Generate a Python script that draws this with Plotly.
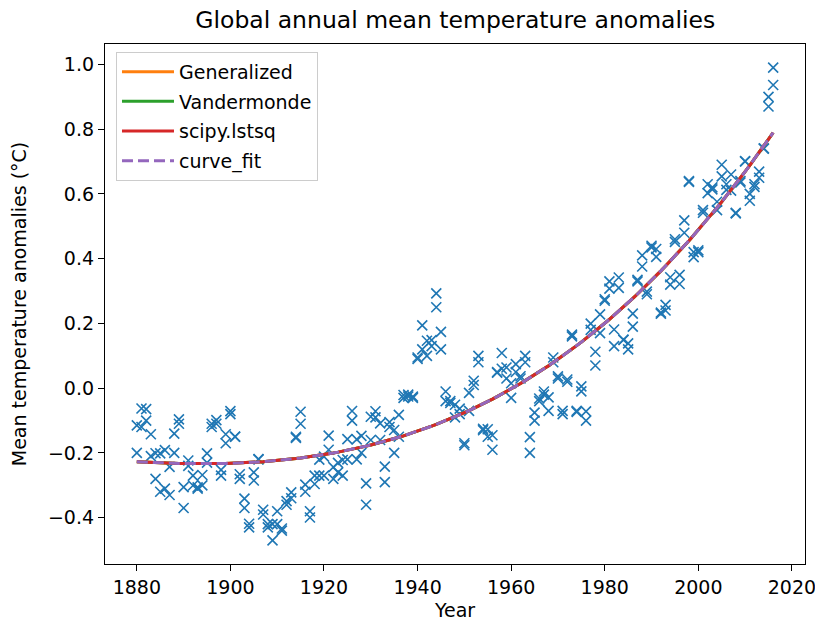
import numpy as np
import plotly.graph_objects as go

years = list(range(1880, 2017))

gcag = [
    -0.1148, -0.0628, -0.0648, -0.1424, -0.2009, -0.2013, -0.1914, -0.2430, -0.1402, -0.0962,
    -0.3057, -0.2233, -0.3006, -0.3064, -0.2682, -0.2015, -0.1200, -0.0985, -0.2521, -0.1422,
    -0.0710, -0.1497, -0.2659, -0.3413, -0.4187, -0.2852, -0.2190, -0.3755, -0.4198, -0.4200,
    -0.3800, -0.4335, -0.3489, -0.3217, -0.1533, -0.0729, -0.2978, -0.3995, -0.2958, -0.2207,
    -0.2114, -0.1467, -0.2437, -0.2306, -0.2217, -0.1573, -0.0704, -0.1581, -0.1473, -0.2938,
    -0.0881, -0.0712, -0.1086, -0.2422, -0.1048, -0.1293, -0.0824, -0.0211, -0.0256, -0.0261,
    0.0947, 0.1940, 0.1466, 0.1483, 0.2928, 0.1740, -0.0103, -0.0459, -0.0513, -0.0631,
    -0.1761, -0.0146, 0.0228, 0.0998, -0.1253, -0.1268, -0.1455, 0.0476, 0.1085, 0.0640,
    0.0151, 0.0745, 0.0367, 0.1000, -0.1513, -0.0756, -0.0317, -0.0104, -0.0283, 0.0947,
    0.0364, -0.0700, 0.0267, 0.1655, -0.0730, 0.0057, -0.0716, 0.1996, 0.1126, 0.2280,
    0.2747, 0.3074, 0.1813, 0.3420, 0.1487, 0.1385, 0.2303, 0.3343, 0.3757, 0.2982,
    0.4350, 0.4055, 0.2335, 0.2572, 0.3426, 0.4518, 0.3216, 0.5181, 0.6370, 0.4048,
    0.4255, 0.5419, 0.6023, 0.6139, 0.5759, 0.6543, 0.6125, 0.6100, 0.5415, 0.6354,
    0.7014, 0.5788, 0.6219, 0.6687, 0.7408, 0.8998, 0.9363,
]

gistemp = [
    -0.20, -0.12, -0.10, -0.21, -0.28, -0.32, -0.31, -0.33, -0.20, -0.11,
    -0.37, -0.24, -0.27, -0.31, -0.30, -0.23, -0.11, -0.11, -0.27, -0.17,
    -0.08, -0.15, -0.28, -0.37, -0.43, -0.26, -0.22, -0.39, -0.43, -0.47,
    -0.42, -0.44, -0.36, -0.34, -0.15, -0.11, -0.32, -0.38, -0.27, -0.27,
    -0.27, -0.19, -0.28, -0.26, -0.27, -0.22, -0.10, -0.22, -0.20, -0.36,
    -0.16, -0.09, -0.16, -0.29, -0.12, -0.20, -0.15, -0.03, -0.02, -0.03,
    0.09, 0.12, 0.10, 0.13, 0.25, 0.12, -0.04, -0.04, -0.09, -0.08,
    -0.17, -0.07, 0.01, 0.08, -0.13, -0.15, -0.19, 0.05, 0.06, 0.03,
    -0.03, 0.05, 0.03, 0.08, -0.20, -0.10, -0.04, -0.02, -0.07, 0.08,
    0.03, -0.08, 0.02, 0.16, -0.07, -0.01, -0.10, 0.18, 0.07, 0.17,
    0.27, 0.33, 0.13, 0.31, 0.15, 0.12, 0.19, 0.33, 0.41, 0.29,
    0.44, 0.43, 0.23, 0.24, 0.32, 0.46, 0.35, 0.48, 0.64, 0.42,
    0.42, 0.55, 0.63, 0.62, 0.55, 0.69, 0.63, 0.66, 0.54, 0.64,
    0.70, 0.60, 0.63, 0.65, 0.74, 0.87, 0.99,
]

fit_names = ["Generalized", "Vandermonde", "scipy.lstsq", "curve_fit"]
fit_colors = ["#ff7f0e", "#2ca02c", "#d62728", "#9467bd"]
fit_dashes = ["solid", "solid", "solid", "11px,5px"]

x_all = np.array(years + years, dtype=float)
y_all = np.array(gcag + gistemp, dtype=float)
coef = np.polyfit(x_all, y_all, 3)
yrs = np.array(years, dtype=float)
fit_vals = np.polyval(coef, yrs)

FONT = "DejaVu Sans"
fig = go.Figure()

fig.add_trace(go.Scatter(
    x=x_all, y=y_all, mode="markers", showlegend=False,
    marker=dict(symbol="x-thin", size=10, color="#1f77b4",
                line=dict(color="#1f77b4", width=1.6)),
))

for name, col, dash in zip(fit_names, fit_colors, fit_dashes):
    fig.add_trace(go.Scatter(
        x=yrs, y=fit_vals, mode="lines", name=name, legendgroup=name,
        line=dict(color=col, width=3, dash=dash),
    ))

axis_common = dict(
    showline=True, linecolor="black", linewidth=1.3, mirror=True,
    ticks="outside", ticklen=6, tickwidth=1.3, tickcolor="black",
    showgrid=False, zeroline=False, automargin=False,
    ticklabeloverflow="allow",
    tickfont=dict(family=FONT, size=19, color="black"),
)

fig.update_layout(
    width=815, height=621,
    margin=dict(l=105, r=10, t=44, b=57),
    paper_bgcolor="white", plot_bgcolor="white",
    font=dict(family=FONT, size=19, color="black"),
    title=dict(text="Global annual mean temperature anomalies",
               x=0.5586, xanchor="center", y=1 - 20 / 621, yanchor="middle",
               font=dict(family=FONT, size=23.5, color="black")),
    xaxis=dict(range=[1873.2, 2022.8], tickvals=list(range(1880, 2021, 20)),
               title=dict(text="Year", standoff=15,
                          font=dict(family=FONT, size=19)),
               **axis_common),
    yaxis=dict(range=[-0.543, 1.063], tickvals=[-0.4, -0.2, 0.0, 0.2, 0.4, 0.6, 0.8, 1.0],
               tickformat=".1f",
               title=dict(text="Mean temperature anomalies (°C)", standoff=16,
                          font=dict(family=FONT, size=19)),
               **axis_common),
    legend=dict(x=0.0157, y=0.985, xanchor="left", yanchor="top",
                bgcolor="rgba(255,255,255,0.8)", bordercolor="#cccccc", borderwidth=1,
                font=dict(family=FONT, size=19, color="black"),
                tracegroupgap=2, itemwidth=52),
)

fig.write_html("out.html")
